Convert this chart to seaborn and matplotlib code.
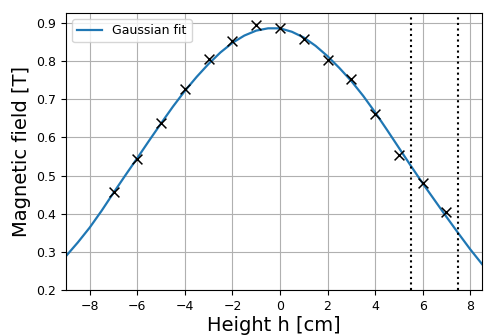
import numpy as np
import pandas as pd
import matplotlib
matplotlib.use("Agg")
import matplotlib.pyplot as plt
import seaborn as sns

# measured points
height_cm = [-7, -6, -5, -4, -3, -2, -1, 0, 1, 2, 3, 4, 5, 6, 7]
field_T = [0.457, 0.544, 0.639, 0.726, 0.805, 0.852, 0.894, 0.888,
           0.857, 0.803, 0.753, 0.662, 0.553, 0.481, 0.404]

# gaussian fit curve
fit_h = [-9.0, -8.5, -8.0, -7.5, -7.0, -6.5, -6.0, -5.5, -5.0, -4.5, -4.0,
         -3.5, -3.0, -2.5, -2.0, -1.5, -1.0, -0.5, 0.0, 0.5, 1.0, 1.5, 2.0,
         2.5, 3.0, 3.5, 4.0, 4.5, 5.0, 5.5, 6.0, 6.5, 7.0, 7.5, 8.0, 8.5]
fit_B = [0.289, 0.325, 0.364, 0.408, 0.455, 0.501, 0.546, 0.592, 0.637,
         0.681, 0.722, 0.759, 0.793, 0.823, 0.848, 0.867, 0.880, 0.886,
         0.886, 0.877, 0.862, 0.840, 0.813, 0.782, 0.748, 0.709, 0.666,
         0.620, 0.573, 0.526, 0.480, 0.436, 0.392, 0.349, 0.307, 0.268]

# region boundaries
v_lines = [5.5, 7.5]

points = pd.DataFrame({"h": height_cm, "B": field_T})
fit = pd.DataFrame({"h": fit_h, "B": fit_B})

fig, ax = plt.subplots(figsize=(4.85, 3.35), dpi=100)
fig.subplots_adjust(left=0.136, right=0.994, top=0.961, bottom=0.134)

sns.lineplot(data=fit, x="h", y="B", ax=ax, color="#1f77b4", lw=1.6,
             label="Gaussian fit", sort=False)
sns.scatterplot(data=points, x="h", y="B", ax=ax, marker="x", color="black",
                s=50, linewidth=1.1, legend=False, zorder=3)
for v in v_lines:
    ax.axvline(v, color="black", linestyle=":", lw=1.5)

ax.set_xlim(-9, 8.5)
ax.set_ylim(0.2, 0.926)
ax.set_xticks(np.arange(-8, 9, 2))
ax.set_yticks(np.arange(0.2, 0.91, 0.1))
ax.grid(True, color="#b0b0b0", lw=0.8)
ax.tick_params(labelsize=9)
ax.set_xlabel("Height h [cm]", fontsize=14, labelpad=2)
ax.set_ylabel("Magnetic field [T]", fontsize=14)
ax.legend(loc="upper left", fontsize=9)

plt.savefig("out.png", dpi=100)
plt.close()
